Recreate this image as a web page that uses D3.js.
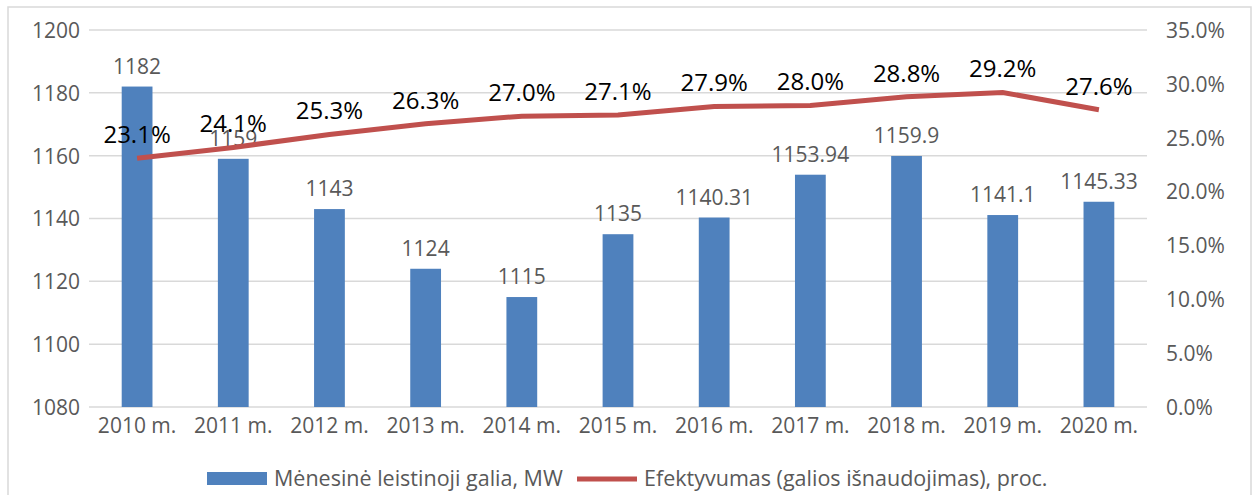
<!DOCTYPE html>
<html>
<head>
<meta charset="utf-8">
<script src="https://cdn.jsdelivr.net/npm/d3@7"></script>
<style>
  body { margin: 0; background: #fff; }
  svg { display: block; }
</style>
</head>
<body>
<svg id="chart" width="1256" height="495"></svg>
<script>
const categories = ["2010 m.", "2011 m.", "2012 m.", "2013 m.", "2014 m.", "2015 m.", "2016 m.", "2017 m.", "2018 m.", "2019 m.", "2020 m."];
const powerValues = [1182, 1159, 1143, 1124, 1115, 1135, 1140.31, 1153.94, 1159.9, 1141.1, 1145.33];
const efficiencyValues = [23.1, 24.1, 25.3, 26.3, 27.0, 27.1, 27.9, 28.0, 28.8, 29.2, 27.6];
const leftTicks = [1080, 1100, 1120, 1140, 1160, 1180, 1200];
const rightTicks = [0, 5, 10, 15, 20, 25, 30, 35];
const seriesNames = ["Mėnesinė leistinoji galia, MW", "Efektyvumas (galios išnaudojimas), proc."];

const svg = d3.select("#chart");
const font = "'Open Sans', sans-serif";
const tickSize = 21;
const margins = { left: 89, right: 1147, top: 30, bottom: 407 };
const barColor = "#4F81BD";
const lineColor = "#C0504D";
const gridColor = "#d9d9d9";
const tickColor = "#595959";

// outer frame
svg.append("rect")
    .attr("x", 8).attr("y", 7)
    .attr("width", 1243).attr("height", 500)
    .attr("fill", "none")
    .attr("stroke", gridColor)
    .attr("stroke-width", 1.5);

const xScale = d3.scaleBand().domain(categories).range([margins.left, margins.right]).paddingInner(0.68).paddingOuter(0.34);
const yScale = d3.scaleLinear().domain([1080, 1200]).range([margins.bottom, margins.top]);
const y2Scale = d3.scaleLinear().domain([0, 35]).range([margins.bottom, margins.top]);

// gridlines
svg.append("g").attr("class", "grid")
    .selectAll("line")
    .data(leftTicks)
    .join("line")
    .attr("x1", margins.left).attr("x2", margins.right)
    .attr("y1", d => yScale(d)).attr("y2", d => yScale(d))
    .attr("stroke", gridColor)
    .attr("stroke-width", 1.5);

// left axis
const yAxis = svg.append("g")
    .attr("transform", `translate(${margins.left - 9},0)`)
    .call(d3.axisLeft(yScale).tickValues(leftTicks).tickSize(0).tickFormat(d3.format("d")));
yAxis.select(".domain").remove();
yAxis.selectAll("text").attr("font-size", tickSize).attr("font-family", font).attr("fill", tickColor).attr("x", 0).attr("dy", "0.35em");

// right axis
const y2Axis = svg.append("g")
    .attr("transform", `translate(${margins.right + 19},0)`)
    .call(d3.axisRight(y2Scale).tickValues(rightTicks).tickSize(0).tickFormat(d => d.toFixed(1) + "%"));
y2Axis.select(".domain").remove();
y2Axis.selectAll("text").attr("font-size", tickSize).attr("font-family", font).attr("fill", tickColor).attr("x", 0).attr("dy", "0.35em");

// x axis labels
const xAxis = svg.append("g")
    .attr("transform", `translate(0,${margins.bottom + 3})`)
    .call(d3.axisBottom(xScale).tickSize(0));
xAxis.select(".domain").remove();
xAxis.selectAll("text").attr("font-size", tickSize).attr("font-family", font).attr("fill", tickColor).attr("dy", "0.95em");

const data = categories.map((c, i) => ({ cat: c, power: powerValues[i], eff: efficiencyValues[i] }));

// bars
svg.append("g").attr("fill", barColor)
    .selectAll("rect")
    .data(data)
    .join("rect")
    .attr("x", d => xScale(d.cat))
    .attr("y", d => yScale(d.power))
    .attr("width", xScale.bandwidth())
    .attr("height", d => yScale(1080) - yScale(d.power));

// bar labels
svg.append("g")
    .selectAll("text")
    .data(data)
    .join("text")
    .attr("x", d => xScale(d.cat) + xScale.bandwidth() / 2)
    .attr("y", d => yScale(d.power) - 13)
    .attr("text-anchor", "middle")
    .attr("font-size", tickSize)
    .attr("font-family", font)
    .attr("fill", tickColor)
    .text(d => d.power);

// line
const line = d3.line()
    .x(d => xScale(d.cat) + xScale.bandwidth() / 2)
    .y(d => y2Scale(d.eff));
svg.append("path")
    .datum(data)
    .attr("d", line)
    .attr("fill", "none")
    .attr("stroke", lineColor)
    .attr("stroke-width", 5);

// line labels
svg.append("g")
    .selectAll("text")
    .data(data)
    .join("text")
    .attr("x", d => xScale(d.cat) + xScale.bandwidth() / 2)
    .attr("y", d => y2Scale(d.eff) - 15)
    .attr("text-anchor", "middle")
    .attr("font-size", 24)
    .attr("font-family", font)
    .attr("fill", "#000")
    .text(d => d.eff.toFixed(1) + "%");

// legend
const legend = svg.append("g").attr("font-family", font).attr("font-size", 21.5).attr("fill", tickColor);
legend.append("rect").attr("x", 207).attr("y", 472).attr("width", 60).attr("height", 13).attr("fill", barColor);
legend.append("text").attr("x", 274).attr("y", 486).text(seriesNames[0]);
legend.append("line").attr("x1", 577).attr("x2", 637).attr("y1", 479).attr("y2", 479).attr("stroke", lineColor).attr("stroke-width", 5);
legend.append("text").attr("x", 644).attr("y", 486).text(seriesNames[1]);
</script>
</body>
</html>
